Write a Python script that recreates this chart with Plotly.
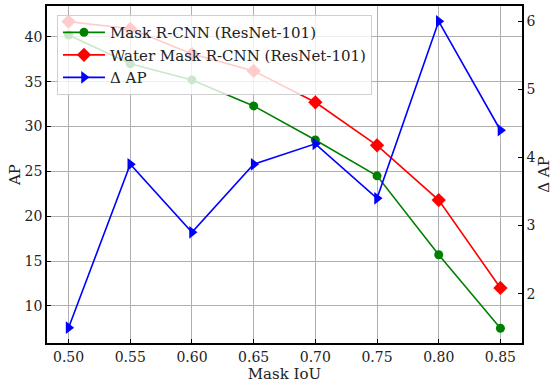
import plotly.graph_objects as go

iou = [0.50, 0.55, 0.60, 0.65, 0.70, 0.75, 0.80, 0.85]
mask_rcnn = [40.2, 37.0, 35.2, 32.3, 28.5, 24.5, 15.7, 7.5]
water_mask_rcnn = [41.7, 40.9, 38.1, 36.2, 32.7, 27.9, 21.8, 12.0]
delta_ap = [1.5, 3.9, 2.9, 3.9, 4.2, 3.4, 6.0, 4.4]
x_ticks = [0.50, 0.55, 0.60, 0.65, 0.70, 0.75, 0.80, 0.85]
x_ticktext = ["0.50", "0.55", "0.60", "0.65", "0.70", "0.75", "0.80", "0.85"]

FONT = "DejaVu Serif"

fig = go.Figure()
fig.add_trace(go.Scatter(
    x=iou, y=mask_rcnn, mode="lines+markers", name="Mask R-CNN (ResNet-101)",
    line=dict(color="green", width=1.6),
    marker=dict(symbol="circle", size=9, color="green"),
))
fig.add_trace(go.Scatter(
    x=iou, y=water_mask_rcnn, mode="lines+markers", name="Water Mask R-CNN (ResNet-101)",
    line=dict(color="red", width=1.6),
    marker=dict(symbol="diamond", size=11, color="red"),
))
fig.add_trace(go.Scatter(
    x=iou, y=delta_ap, mode="lines+markers", name="Δ AP", yaxis="y2",
    line=dict(color="blue", width=1.6),
    marker=dict(symbol="triangle-right", size=11, color="blue"),
))

fig.update_layout(
    width=553, height=385,
    margin=dict(l=47, r=31, t=6, b=42, autoexpand=False),
    plot_bgcolor="white", paper_bgcolor="white",
    font=dict(family=FONT, size=14, color="#222"),
    showlegend=True,
    legend=dict(
        x=0.021, y=0.973, xanchor="left", yanchor="top",
        bgcolor="rgba(255,255,255,0.8)", bordercolor="#d0d0d0", borderwidth=1,
        font=dict(family=FONT, size=15, color="#222"),
        tracegroupgap=0, itemwidth=42,
    ),
    xaxis=dict(
        range=[0.4825, 0.8675], tickvals=x_ticks, ticktext=x_ticktext,
        showgrid=True, gridcolor="#b0b0b0", gridwidth=1,
        showline=True, linecolor="black", linewidth=1.5, mirror=True,
        ticks="inside", ticklen=4, tickcolor="black",
        zeroline=False, automargin=False,
        title=dict(text="Mask IoU", standoff=2, font=dict(family=FONT, size=15)),
    ),
    yaxis=dict(
        range=[5.86, 43.44], tickvals=[10, 15, 20, 25, 30, 35, 40],
        showgrid=True, gridcolor="#b0b0b0", gridwidth=1,
        showline=True, linecolor="black", linewidth=1.5, mirror=True,
        ticks="inside", ticklen=4, tickcolor="black",
        zeroline=False, automargin=False,
        title=dict(text="AP", standoff=0, font=dict(family=FONT, size=15)),
    ),
    yaxis2=dict(
        range=[1.275, 6.225], tickvals=[2, 3, 4, 5, 6],
        overlaying="y", side="right",
        showgrid=False, showline=True, linecolor="black", linewidth=1.5,
        ticks="inside", ticklen=4, tickcolor="black",
        zeroline=False, automargin=False,
        title=dict(text="Δ AP", standoff=4, font=dict(family=FONT, size=15)),
    ),
)

fig.write_html("out.html", config={"displayModeBar": False},
               post_script="document.body.style.margin='0';document.body.style.overflow='hidden';")
